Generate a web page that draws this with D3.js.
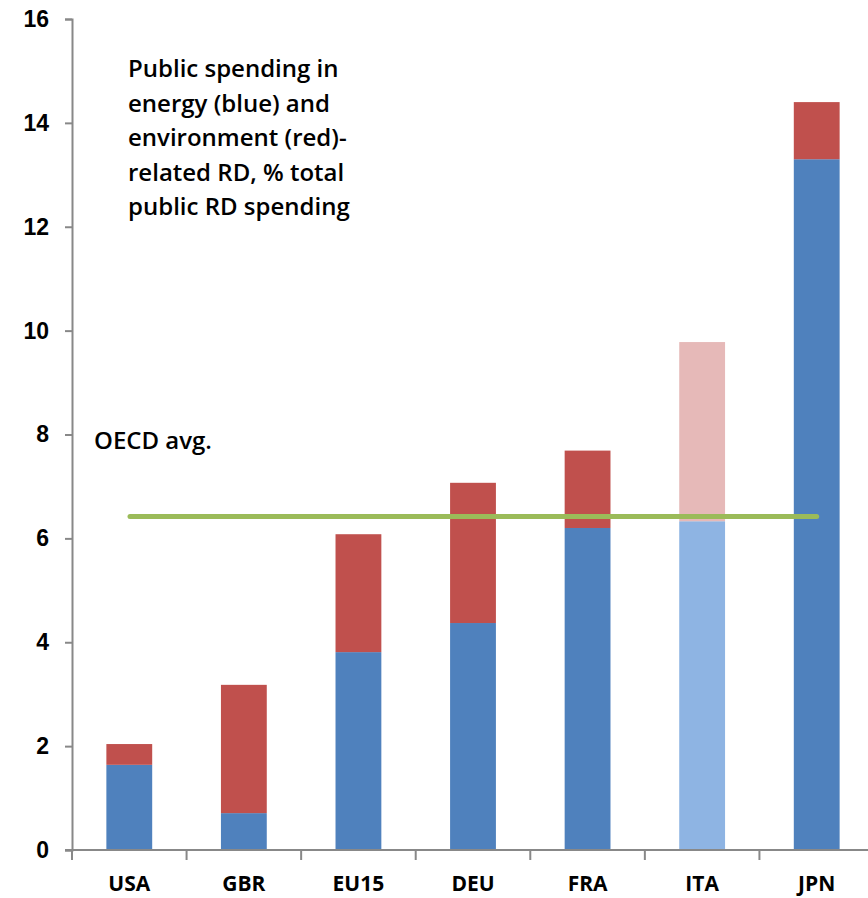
<!DOCTYPE html>
<html>
<head>
<meta charset="utf-8">
<script src="https://cdn.jsdelivr.net/npm/d3@7"></script>
<style>
  body { margin: 0; background: #fff; }
  svg { display: block; font-family: "Open Sans", "Noto Sans", sans-serif; }
</style>
</head>
<body>
<div id="chart"></div>
<script>
var countries = ["USA", "GBR", "EU15", "DEU", "FRA", "ITA", "JPN"];
var energy = [1.64, 0.71, 3.81, 4.37, 6.2, 6.33, 13.3];
var environment = [0.4, 2.47, 2.27, 2.7, 1.49, 3.45, 1.1];
var highlighted = ["ITA"];
var oecdAvg = 6.42;
var yTicks = [0, 2, 4, 6, 8, 10, 12, 14, 16];
var noteLines = ["Public spending in", "energy (blue) and", "environment (red)-", "related RD, % total", "public RD spending"];

var width = 868, height = 898,
    margin = {top: 19, right: -6, bottom: 48, left: 72};

var x = d3.scaleBand()
    .domain(countries)
    .range([margin.left, width - margin.right])
    .paddingInner(0.6)
    .paddingOuter(0.3);

var y = d3.scaleLinear()
    .domain([0, 16])
    .range([height - margin.bottom, margin.top]);

var svg = d3.select("#chart").append("svg")
    .attr("width", width)
    .attr("height", height);

var rows = countries.map(function(c, i) {
  return {country: c, energy: energy[i], environment: environment[i]};
});
var stacked = d3.stack().keys(["energy", "environment"])(rows);

var colors = {
  energy: {normal: "#4f81bd", light: "#8eb4e3"},
  environment: {normal: "#c0504d", light: "#e6b9b8"}
};

// bars
svg.append("g").selectAll("g")
  .data(stacked)
  .join("g")
    .each(function(layer) {
      d3.select(this).selectAll("rect")
        .data(layer)
        .join("rect")
          .attr("x", function(d) { return x(d.data.country); })
          .attr("width", x.bandwidth())
          .attr("y", function(d) { return y(d[1]); })
          .attr("height", function(d) { return y(d[0]) - y(d[1]); })
          .attr("fill", function(d) {
            var isLight = highlighted.indexOf(d.data.country) >= 0;
            return colors[layer.key][isLight ? "light" : "normal"];
          });
    });

// y axis
var yAxis = svg.append("g")
    .attr("transform", "translate(" + margin.left + ",0)")
    .call(d3.axisLeft(y).tickValues(yTicks).tickSize(7).tickPadding(16));
yAxis.select(".domain").attr("stroke", "#888").attr("stroke-width", 2);
yAxis.selectAll(".tick line").attr("stroke", "#888").attr("stroke-width", 2);
yAxis.selectAll(".tick text")
    .attr("fill", "#000")
    .style("font-size", "23px")
    .style("font-weight", "bold");

// x axis
var xAxis = svg.append("g")
    .attr("transform", "translate(0," + y(0) + ")");
xAxis.append("line")
    .attr("x1", margin.left - 7)
    .attr("x2", width)
    .attr("stroke", "#888")
    .attr("stroke-width", 2);
xAxis.selectAll("line.sep")
  .data(countries)
  .join("line")
    .attr("class", "sep")
    .attr("x1", function(d) { return x(d) - x.step() * x.paddingInner() / 2; })
    .attr("x2", function(d) { return x(d) - x.step() * x.paddingInner() / 2; })
    .attr("y1", 0)
    .attr("y2", 10)
    .attr("stroke", "#888")
    .attr("stroke-width", 2);
xAxis.selectAll("text")
  .data(countries)
  .join("text")
    .attr("x", function(d) { return x(d) + x.bandwidth() / 2; })
    .attr("y", 41)
    .attr("text-anchor", "middle")
    .style("font-size", "21px")
    .style("font-weight", "bold")
    .text(function(d) { return d; });

// OECD average line
svg.append("line")
    .attr("x1", 130)
    .attr("x2", x("JPN") + x.bandwidth() / 2)
    .attr("y1", y(oecdAvg))
    .attr("y2", y(oecdAvg))
    .attr("stroke", "#9bbb59")
    .attr("stroke-width", 5)
    .attr("stroke-linecap", "round");

svg.append("text")
    .attr("x", 94)
    .attr("y", 449)
    .style("font-size", "24px")
    .style("font-weight", 600)
    .text("OECD avg.");

// note
svg.append("text")
    .attr("x", 128)
    .attr("y", 77)
    .style("font-size", "24px")
    .style("font-weight", 600)
  .selectAll("tspan")
  .data(noteLines)
  .join("tspan")
    .attr("x", 128)
    .attr("dy", function(d, i) { return i === 0 ? 0 : 34.6; })
    .text(function(d) { return d; });
</script>
</body>
</html>
